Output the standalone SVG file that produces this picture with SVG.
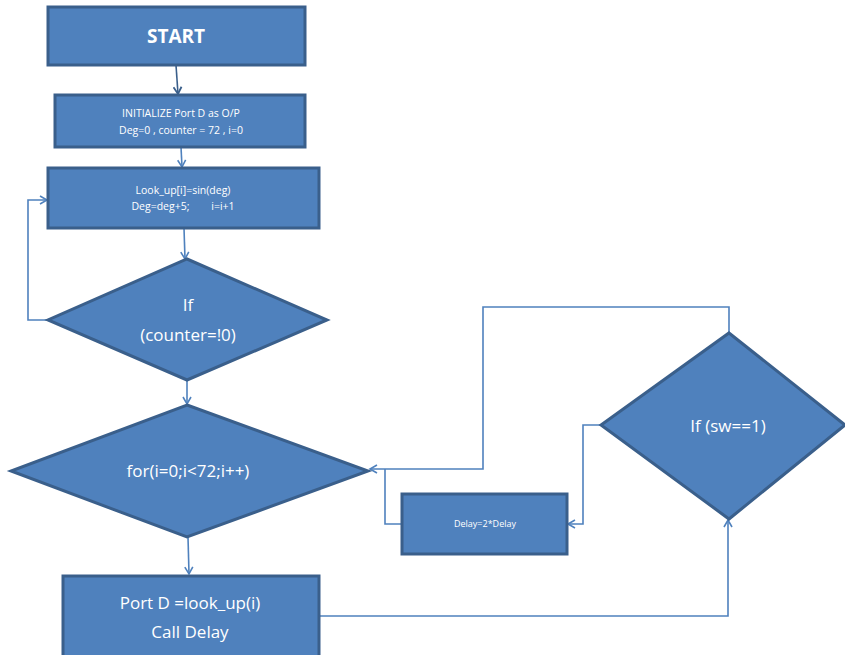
<svg xmlns="http://www.w3.org/2000/svg" width="845" height="655" viewBox="0 0 845 655">
<defs>
<style>
.n{fill:#4F81BD;stroke:#3A5F8B;stroke-width:3}
.t{fill:#fff;font-family:"Open Sans","Liberation Sans",sans-serif;text-anchor:middle}
.c{fill:none;stroke:#4F81BD;stroke-width:1.6}
.cd{fill:none;stroke:#3A5F8B;stroke-width:1.6}
</style>
<marker id="a" markerWidth="10" markerHeight="10" refX="8" refY="5" orient="auto" markerUnits="userSpaceOnUse">
<polyline points="1,1 8,5 1,9" fill="none" stroke="#4F81BD" stroke-width="1.6"/>
</marker>
<marker id="ad" markerWidth="10" markerHeight="10" refX="8" refY="5" orient="auto" markerUnits="userSpaceOnUse">
<polyline points="1,1 8,5 1,9" fill="none" stroke="#3A5F8B" stroke-width="1.8"/>
</marker>
</defs>
<rect width="845" height="655" fill="#fff"/>
<g id="connectors">
<path class="cd" d="M176,65 L178,94" marker-end="url(#ad)"/>
<path class="c" d="M181,147 L182,167" marker-end="url(#a)"/>
<path class="c" d="M184,228 L185,259" marker-end="url(#a)"/>
<path class="c" d="M48,320 L28,320 L28,200 L47,200" marker-end="url(#a)"/>
<path class="c" d="M187,380 L187,404" marker-end="url(#a)"/>
<path class="c" d="M188,537 L189,574" marker-end="url(#a)"/>
<path class="c" d="M319,616 L728,616 L728,520" marker-end="url(#a)"/>
<path class="c" d="M729,333 L729,307 L483,307 L483,469 L370,469" marker-end="url(#a)"/>
<path class="c" d="M601,425 L583,425 L583,524 L568,524" marker-end="url(#a)"/>
<path class="c" d="M402,524 L385,524 L385,469"/>
</g>
<g id="start">
<rect class="n" x="48" y="7" width="257" height="58"/>
<text class="t" x="176" y="43" font-size="19" font-weight="bold">START</text>
</g>
<g id="init">
<rect class="n" x="55" y="95" width="250" height="52"/>
<text class="t" x="181" y="117" font-size="10.5">INITIALIZE  Port D as O/P</text>
<text class="t" x="181" y="134" font-size="10.5">Deg=0 , counter = 72 , i=0</text>
</g>
<g id="lookup">
<rect class="n" x="48" y="168" width="271" height="60"/>
<text class="t" x="183" y="194" font-size="10.5">Look_up[i]=sin(deg)</text>
<text class="t" x="183" y="210" font-size="10.5" xml:space="preserve">Deg=deg+5;        i=i+1</text>
</g>
<g id="if-counter">
<polygon class="n" points="187,259 327,320 187,380 48,320"/>
<text class="t" x="188" y="311" font-size="17">If</text>
<text class="t" x="188" y="341" font-size="17">(counter=!0)</text>
</g>
<g id="for-loop">
<polygon class="n" points="187,405 368,471 187,537 11,471"/>
<text class="t" x="188" y="477" font-size="17">for(i=0;i&lt;72;i++)</text>
</g>
<g id="portd">
<rect class="n" x="63" y="576" width="256" height="85"/>
<text class="t" x="190" y="609" font-size="17">Port D =look_up(i)</text>
<text class="t" x="190" y="638" font-size="17">Call Delay</text>
</g>
<g id="if-sw">
<polygon class="n" points="729,333 845,425 729,519 601,425"/>
<text class="t" x="728" y="432" font-size="17">If (sw==1)</text>
</g>
<g id="delay">
<rect class="n" x="402" y="494" width="165" height="60"/>
<text class="t" x="485" y="527" font-size="9">Delay=2*Delay</text>
</g>
</svg>
